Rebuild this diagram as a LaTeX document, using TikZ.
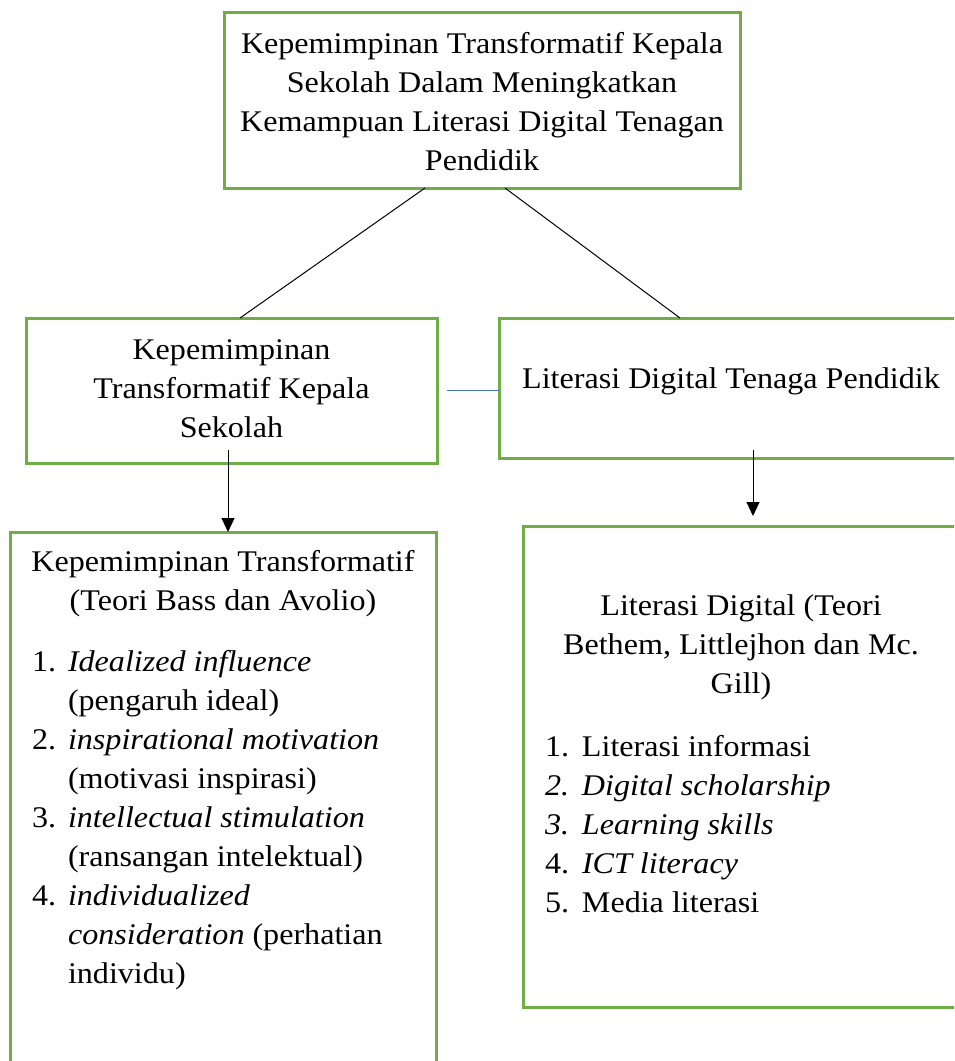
\documentclass[tikz,border=0pt]{standalone}
\usepackage{fontspec}
\setmainfont{Liberation Serif}[FakeStretch=1.07]
\usetikzlibrary{arrows.meta}
\definecolor{boxgreen}{HTML}{70AD47}
\definecolor{linkblue}{HTML}{4472C4}
\begin{document}
\begin{tikzpicture}[x=1pt,y=-1pt,
  box/.style={draw=boxgreen, line width=3pt, inner sep=0pt, outer sep=0pt},
  txt/.style={inner sep=0pt, outer sep=0pt, font=\fontsize{30}{39}\selectfont},
  conn/.style={draw=black, line width=1pt},
  arr/.style={conn, -{Triangle[length=14pt,width=13pt]}}]
\useasboundingbox (0,0) rectangle (954,1061);
\clip (0,0) rectangle (954,1061);
% boxes
\node[box, minimum width=516pt, minimum height=176pt] (top) at (482,100) {};
\node[box, minimum width=411pt, minimum height=145pt] (ml) at (231.5,390.5) {};
\node[box, minimum width=463pt, minimum height=140pt] (mr) at (730.5,388) {};
\node[box, minimum width=426pt, minimum height=548pt] (bl) at (223,806) {};
\node[box, minimum width=439pt, minimum height=481pt] (br) at (742.5,766.5) {};
% texts (anchor = baseline of the last line)
\node[txt, align=center, anchor=base] (toptxt) at (482,170) {Kepemimpinan Transformatif Kepala\\Sekolah Dalam Meningkatkan\\Kemampuan Literasi Digital Tenagan\\Pendidik};
\node[txt, align=center, anchor=base] (mltxt) at (231.5,437) {Kepemimpinan\\Transformatif Kepala\\Sekolah};
\node[txt, anchor=base] (mrtxt) at (731,388) {Literasi Digital Tenaga Pendidik};
\node[txt, align=center, anchor=base] (blhead) at (223,610) {Kepemimpinan Transformatif\\(Teori Bass dan Avolio)};
\node[txt, align=left, anchor=base west] (bllist) at (32,983) {%
\makebox[36pt][l]{1.}\textit{Idealized influence}\\
\hspace*{36pt}(pengaruh ideal)\\
\makebox[36pt][l]{2.}\textit{inspirational motivation}\\
\hspace*{36pt}(motivasi inspirasi)\\
\makebox[36pt][l]{3.}\textit{intellectual stimulation}\\
\hspace*{36pt}(ransangan intelektual)\\
\makebox[36pt][l]{4.}\textit{individualized}\\
\hspace*{36pt}\textit{consideration} (perhatian\\
\hspace*{36pt}individu)};
\node[txt, align=center, anchor=base] (brhead) at (741,693) {Literasi Digital (Teori\\Bethem, Littlejhon dan Mc.\\Gill)};
\node[txt, align=left, anchor=base west] (brlist) at (545,912) {%
\makebox[37pt][l]{1.}Literasi informasi\\
\makebox[37pt][l]{\textit{2.}}\textit{Digital scholarship}\\
\makebox[37pt][l]{\textit{3.}}\textit{Learning skills}\\
\makebox[37pt][l]{4.}\textit{ICT literacy}\\
\makebox[37pt][l]{5.}Media literasi};
% connectors
\coordinate (tl) at ([xshift=201pt]top.south west);
\coordinate (tr) at ([xshift=281pt]top.south west);
\coordinate (mlt) at ([xshift=214pt]ml.north west);
\coordinate (mrt) at ([xshift=181pt]mr.north west);
\draw[conn] (tl) -- (mlt);
\draw[conn] (tr) -- (mrt);
\coordinate (bstart) at ([xshift=10pt]ml.east);
\draw[draw=linkblue, line width=1pt] (bstart) -- (bstart -| mr.west);
\coordinate (a1) at (228,450);
\coordinate (a2) at (753,450);
\draw[arr] (a1) -- (a1 |- bl.north);
\draw[arr] (a2) -- ([yshift=10pt]a2 |- br.north);
\end{tikzpicture}
\end{document}
